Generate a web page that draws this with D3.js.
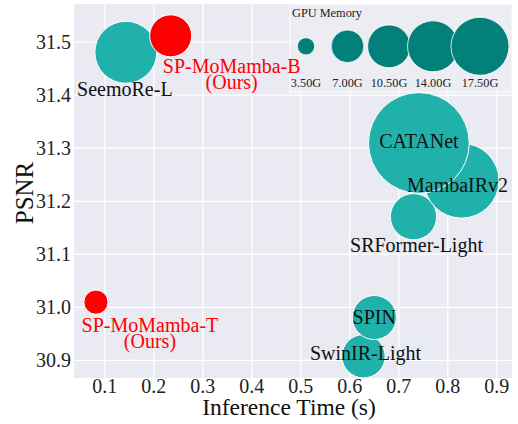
<!DOCTYPE html>
<head>
  <meta charset="utf-8">
  <script src="https://d3js.org/d3.v7.min.js"></script>
  <style>
    body { margin:0; background:#fff; }
    text { font-family: "Liberation Serif", "Times New Roman", serif; }
  </style>
</head>

<body>
  <script>
    var width = 518,
        height = 424;

    // data
    var models = ["SwinIR-Light", "SPIN", "SRFormer-Light", "MambaIRv2", "CATANet",
                  "SeemoRe-L", "SP-MoMamba-T", "SP-MoMamba-B"];
    var times  = [0.629, 0.651, 0.731, 0.829, 0.742, 0.144, 0.083, 0.2355];
    var psnr   = [30.907, 30.980, 31.170, 31.238, 31.309, 31.480, 31.009, 31.511];
    var memory = [10.7, 11.0, 11.9, 27.8, 48.5, 19.7, 4.8, 10.2];
    var ours   = [false, false, false, false, false, false, true, true];

    var xTicks = [0.1, 0.2, 0.3, 0.4, 0.5, 0.6, 0.7, 0.8, 0.9];
    var yTicks = [30.9, 31.0, 31.1, 31.2, 31.3, 31.4, 31.5];
    var legendMem = [3.5, 7.0, 10.5, 14.0, 17.5];

    // label placement (pixel offsets from the mark centre)
    var labelOffset = {
      "SwinIR-Light": [2, 4], "SPIN": [0, 6], "SRFormer-Light": [3, 35],
      "MambaIRv2": [-4, 11], "CATANet": [0, 5], "SeemoRe-L": [-1, 44],
      "SP-MoMamba-T": [54, 30], "SP-MoMamba-B": [61, 37]
    };

    var pLeft = 74, pRight = 512, pTop = 4, pBottom = 378;

    var svg = d3.select("body").append("svg")
      .attr("width", width)
      .attr("height", height);

    var xScale = d3.scaleLinear()
      .domain([0.0382, 0.932])
      .range([pLeft, pRight]);
    var yScale = d3.scaleLinear()
      .domain([30.866, 31.571])
      .range([pBottom, pTop]);
    // marker area grows linearly with memory
    var areaScale = d3.scaleLinear()
      .domain([3.5, 17.5])
      .range([75, 841]);
    function radius(m) { return Math.sqrt(areaScale(m)); }

    svg.append('rect')
      .attr('x', pLeft).attr('y', pTop)
      .attr('width', pRight - pLeft).attr('height', pBottom - pTop)
      .attr('fill', '#EAEAF2');

    //grid
    var xAxis = d3.axisBottom(xScale)
      .tickValues(xTicks)
      .tickSize(-(pBottom - pTop))
      .tickPadding(1)
      .tickFormat(d3.format('.1f'));
    var yAxis = d3.axisLeft(yScale)
      .tickValues(yTicks)
      .tickSize(-(pRight - pLeft))
      .tickPadding(3)
      .tickFormat(d3.format('.1f'));

    var gx = svg.append('g')
      .attr('transform', 'translate(0,' + pBottom + ')')
      .call(xAxis);
    var gy = svg.append('g')
      .attr('transform', 'translate(' + pLeft + ',0)')
      .call(yAxis);
    [gx, gy].forEach(function(g) {
      g.select('.domain').remove();
      g.selectAll('.tick line').attr('stroke', '#fff').attr('stroke-width', 1.3);
      g.selectAll('.tick text')
        .attr('fill', '#222')
        .style('font-size', '20px')
        .style('font-family', '"Liberation Serif", serif');
    });
    gx.selectAll('.tick text').attr('dy', '0.7em');

    // bubbles
    var idx = d3.range(models.length);
    svg.append('g').selectAll('circle')
      .data(idx)
      .enter()
      .append('circle')
      .attr('cx', function(i) { return xScale(times[i]); })
      .attr('cy', function(i) { return yScale(psnr[i]); })
      .attr('r', function(i) { return radius(memory[i]); })
      .attr('fill', function(i) { return ours[i] ? '#FF0000' : '#20B2AA'; })
      .attr('stroke', '#fff')
      .attr('stroke-width', 1);

    // GPU memory legend
    var legend = svg.append('g');
    legend.append('rect')
      .attr('x', 290).attr('y', pTop)
      .attr('width', pRight - 290).attr('height', 88)
      .attr('fill', '#ECECF3').attr('fill-opacity', 0.85)
      .attr('stroke', '#fff').attr('stroke-width', 1);
    legend.append('text')
      .attr('x', 292).attr('y', 17)
      .attr('fill', '#222')
      .style('font-size', '12.3px')
      .text('GPU Memory');
    var legendX = [306, 347.5, 389, 433, 480];
    legend.selectAll('circle')
      .data(legendMem)
      .enter()
      .append('circle')
      .attr('cx', function(d, i) { return legendX[i]; })
      .attr('cy', 46.3)
      .attr('r', function(d) { return radius(d); })
      .attr('fill', '#038079')
      .attr('stroke', '#fff')
      .attr('stroke-width', 0.8);
    legend.selectAll('text.lab')
      .data(legendMem)
      .enter()
      .append('text')
      .attr('class', 'lab')
      .attr('x', function(d, i) { return legendX[i]; })
      .attr('y', 87)
      .attr('text-anchor', 'middle')
      .attr('fill', '#222')
      .style('font-size', '12.3px')
      .text(function(d) { return d.toFixed(2) + 'G'; });

    // labels (on top of the legend)
    var labels = svg.append('g').selectAll('text')
      .data(idx)
      .enter()
      .append('text')
      .attr('text-anchor', 'middle')
      .attr('x', function(i) { return xScale(times[i]) + labelOffset[models[i]][0]; })
      .attr('y', function(i) { return yScale(psnr[i]) + labelOffset[models[i]][1]; })
      .attr('fill', function(i) { return ours[i] ? '#FF0000' : '#111'; })
      .style('font-size', '20px');
    labels.append('tspan')
      .text(function(i) { return models[i]; });
    labels.filter(function(i) { return ours[i]; })
      .append('tspan')
      .attr('x', function(i) { return xScale(times[i]) + labelOffset[models[i]][0]; })
      .attr('dy', 16)
      .text('(Ours)');

    // axis titles
    svg.append('text')
      .attr('x', 289).attr('y', 415)
      .attr('text-anchor', 'middle')
      .attr('fill', '#111')
      .style('font-size', '23.5px')
      .text('Inference Time (s)');
    svg.append('text')
      .attr('transform', 'translate(33,193) rotate(-90)')
      .attr('text-anchor', 'middle')
      .attr('fill', '#111')
      .style('font-size', '25px')
      .text('PSNR');
  </script>
</body>
